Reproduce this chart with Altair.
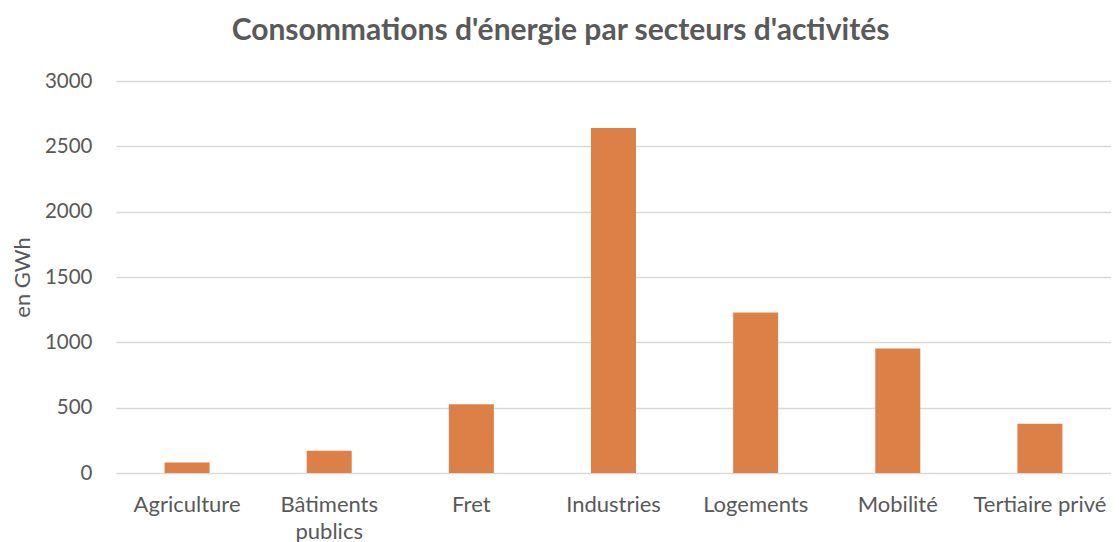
import altair as alt
import pandas as pd

categories = ["Agriculture", "Bâtiments publics", "Fret", "Industries", "Logements", "Mobilité", "Tertiaire privé"]
values = [81, 170, 527, 2640, 1228, 953, 377]
title_text = "Consommations d'énergie par secteurs d'activités"
y_title = "en GWh"
y_ticks = [0, 500, 1000, 1500, 2000, 2500, 3000]

df = pd.DataFrame({"secteur": categories, "valeur": values})

label_expr = (
    "datum.value == 'Bâtiments publics' ? ['Bâtiments', 'publics'] : datum.value"
)

FONT = "Lato"
GRAY = "#595959"

chart = (
    alt.Chart(df)
    .mark_bar(color="#DD8047", size=45)
    .encode(
        x=alt.X(
            "secteur:N",
            sort=categories,
            title=None,
            scale=alt.Scale(paddingInner=0, paddingOuter=0),
            axis=alt.Axis(
                labelAngle=0,
                labelExpr=label_expr,
                labelFont=FONT,
                labelFontSize=22,
                labelColor=GRAY,
                labelPadding=31,
                labelLineHeight=27,
                labelBaseline="middle",
                ticks=False,
                domain=False,
                grid=False,
            ),
        ),
        y=alt.Y(
            "valeur:Q",
            title=y_title,
            scale=alt.Scale(domain=[0, 3000], nice=False),
            axis=alt.Axis(
                values=y_ticks,
                format="d",
                labelFont=FONT,
                labelFontSize=20.5,
                labelColor=GRAY,
                labelPadding=24,
                titleFont=FONT,
                titleFontSize=22,
                titleFontWeight="normal",
                titleColor=GRAY,
                titlePadding=10,
                ticks=False,
                domain=False,
                grid=True,
                gridColor="#d9d9d9",
                gridWidth=1.5,
            ),
        ),
    )
    .properties(
        width=995,
        height=392,
        autosize=alt.AutoSizeParams(type="none"),
        padding={"left": 108, "top": 73, "right": 0, "bottom": 69},
        title=alt.TitleParams(
            text=title_text,
            font=FONT,
            fontSize=30,
            fontWeight="bold",
            color=GRAY,
            anchor="middle",
            dx=-53,
            offset=25,
        ),
    )
    .configure_view(stroke=None)
)

chart.save("out.html", embed_options={"renderer": "svg", "actions": False})
